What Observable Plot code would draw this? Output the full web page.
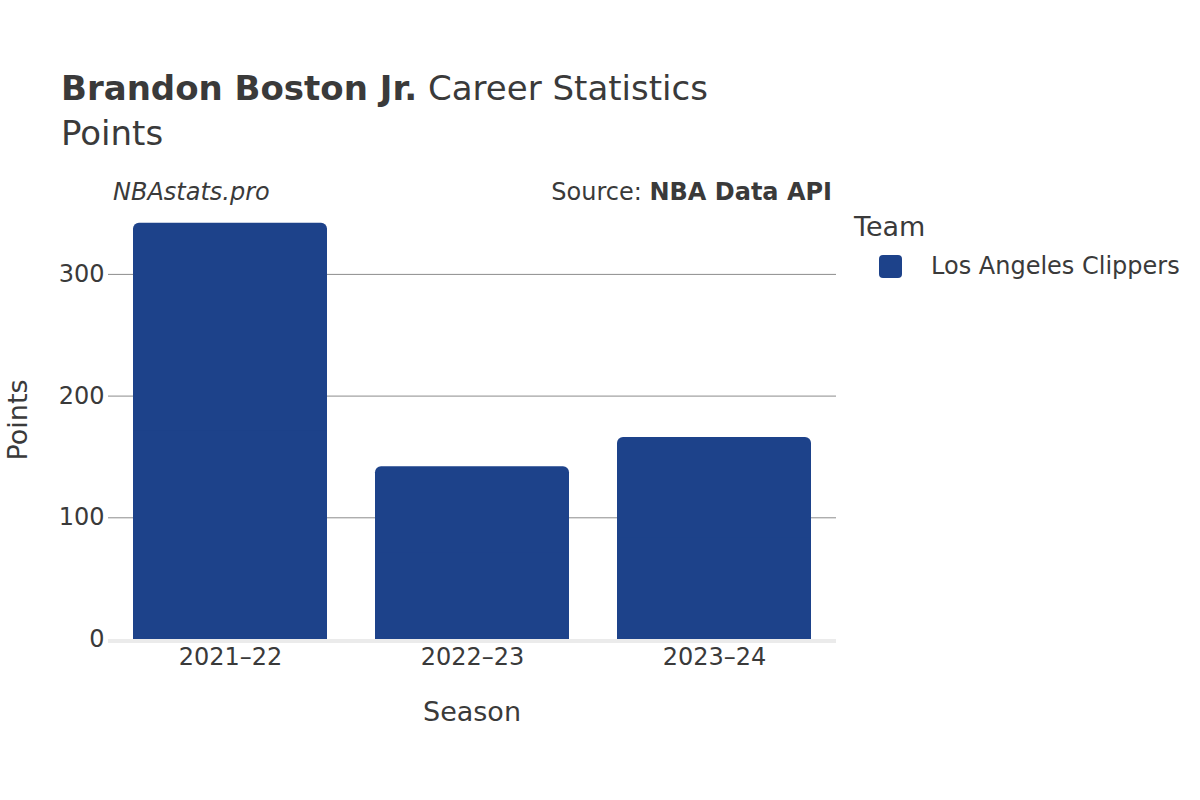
<!DOCTYPE html>
<html>
<head>
<meta charset="utf-8">
<script src="https://cdn.jsdelivr.net/npm/d3@7"></script>
<script src="https://cdn.jsdelivr.net/npm/@observablehq/plot@0.6"></script>
<style>
  html, body { margin: 0; padding: 0; background: #fff; }
  #wrap { position: relative; width: 1200px; height: 800px; font-family: "DejaVu Sans", sans-serif; color: #3a3a3a; overflow: hidden; }
  #wrap > svg { position: absolute; left: 0; top: 0; }
  .abs { position: absolute; white-space: nowrap; line-height: 1; }
</style>
</head>
<body>
<div id="wrap">
  <div class="abs" style="left:61px; top:71px; font-size:34px;"><b>Brandon Boston Jr.</b> Career Statistics</div>
  <div class="abs" style="left:61px; top:116px; font-size:34px;">Points</div>
  <div class="abs" style="left:113px; top:180px; font-size:24px; font-style:italic;">NBAstats.pro</div>
  <div class="abs" style="right:368px; top:180px; font-size:24px;">Source: <b>NBA Data API</b></div>
  <div class="abs" style="left:472px; top:698px; font-size:27px; transform:translateX(-50%);">Season</div>
  <div class="abs" style="left:17px; top:420px; font-size:27px; transform:translate(-50%,-50%) rotate(-90deg);">Points</div>
  <div class="abs" style="left:854px; top:213px; font-size:27px;">Team</div>
  <div class="abs" id="legend" style="left:879px; top:254px; font-size:24px; display:flex; align-items:center;"></div>
</div>
<script>
const seasons = ["2021–22", "2022–23", "2023–24"];
const points = [342, 142, 166];
const teams = ["Los Angeles Clippers", "Los Angeles Clippers", "Los Angeles Clippers"];
const teamColors = { "Los Angeles Clippers": "#1d428a" };
const yTicks = [0, 100, 200, 300];

const data = seasons.map((s, i) => ({ season: s, points: points[i], team: teams[i] }));

const chart = Plot.plot({
  width: 1200,
  height: 800,
  marginLeft: 108,
  marginRight: 364,
  marginTop: 210,
  marginBottom: 161,
  style: { fontFamily: "DejaVu Sans, sans-serif", fontSize: "24px", color: "#3a3a3a", background: "transparent" },
  x: { domain: seasons, paddingInner: 0.2, paddingOuter: 0.1, label: null },
  y: { domain: [0, 352.5], label: null },
  color: { domain: Object.keys(teamColors), range: Object.values(teamColors) },
  marks: [
    Plot.gridY(yTicks.filter(d => d > 0), { stroke: "#8c8c8c", strokeOpacity: 1, strokeWidth: 1 }),
    Plot.ruleY([0], { stroke: "#ebebeb", strokeWidth: 4, dy: 1.5 }),
    Plot.barY(data, { x: "season", y: "points", fill: "team", rx: 6 }),
    Plot.barY(data, { x: "season", y1: 0, y2: d => d.points / 2, fill: "team" }),
    Plot.axisY({ ticks: yTicks, tickSize: 0, tickPadding: 4, fontSize: 24, label: null }),
    Plot.axisX({ tickSize: 0, tickPadding: 8, fontSize: 24, label: null })
  ]
});
document.getElementById("wrap").appendChild(chart);

const legend = document.getElementById("legend");
Object.entries(teamColors).forEach(([name, col]) => {
  const sw = document.createElement("span");
  sw.style.cssText = `display:inline-block;width:23px;height:23px;border-radius:4px;background:${col};margin-right:29px;`;
  const lb = document.createElement("span");
  lb.textContent = name;
  legend.appendChild(sw);
  legend.appendChild(lb);
});
</script>
</body>
</html>
